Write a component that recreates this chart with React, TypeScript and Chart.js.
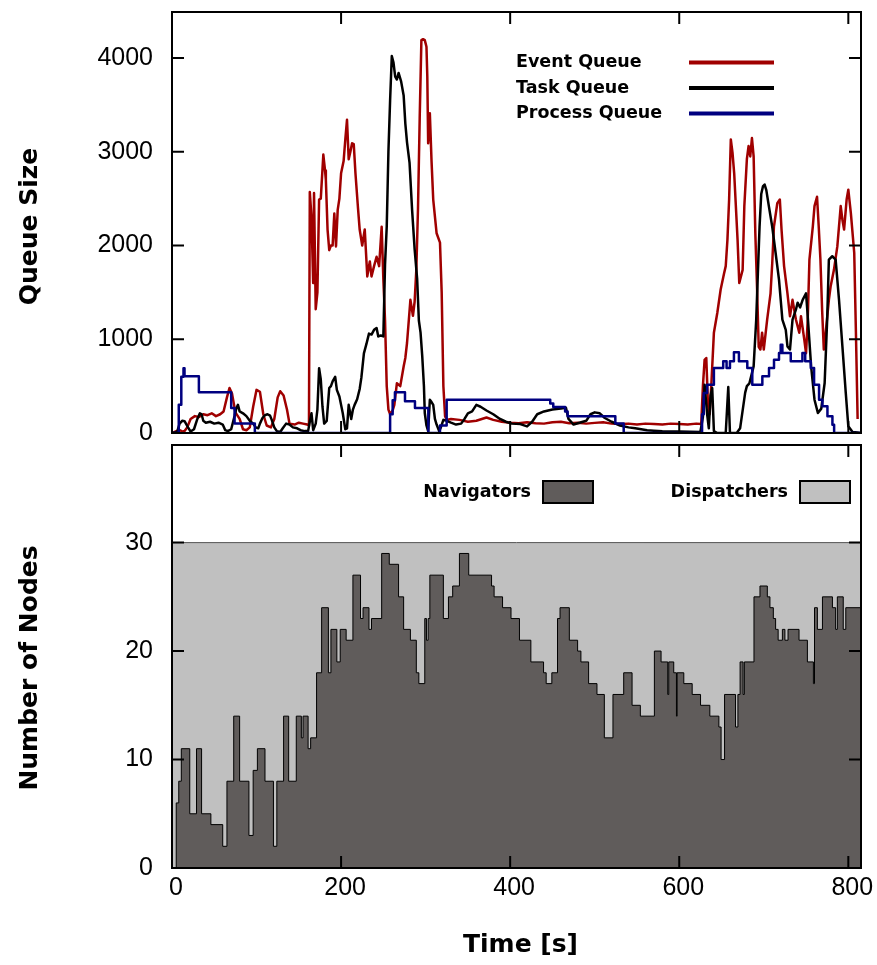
import { useEffect, useRef } from "react";
import { Chart, registerables } from "chart.js";

Chart.register(...registerables);

// ---- axes ----
const T_MAX = 815;
const TIME_TICKS = [0, 200, 400, 600, 800];
const QUEUE_MAX = 4490;
const QUEUE_TICKS = [0, 1000, 2000, 3000, 4000];
const NODE_MAX = 39;
const NODE_TICKS = [0, 10, 20, 30];

// ---- queue sizes over time: [time (s), size] ----
const EVENT_QUEUE: [number, number][] = [
  [0, 0], [5, 20], [9, 30], [14, 10], [18, 60], [22, 150], [27, 180], [32, 170], [37, 200], [42, 190],
  [47, 210], [52, 180], [57, 200], [61, 230], [65, 380], [68, 480], [71, 420], [75, 220], [80, 150], [84, 40],
  [88, 30], [92, 60], [96, 280], [100, 460], [104, 440], [108, 200], [112, 80], [117, 60], [121, 150], [125, 380],
  [128, 445], [132, 400], [136, 250], [139, 100], [145, 90], [150, 110], [155, 100], [160, 90], [162, 80],
  [163, 2570], [165, 2300], [167, 1600], [168, 2560], [170, 1320], [172, 1500], [174, 2490], [176, 2500], [179, 2970],
  [181, 2800], [182, 2700], [184, 2170], [186, 1950], [188, 2000], [190, 2000], [192, 2340], [194, 1990], [196, 2380],
  [198, 2500], [200, 2770], [203, 2900], [205, 3130], [207, 3340], [209, 2920], [211, 3000], [213, 3090], [215, 3080],
  [217, 2770], [220, 2400], [222, 2170], [225, 2000], [228, 2170], [231, 1670], [234, 1830], [236, 1670], [239, 1780],
  [242, 1880], [245, 1780], [248, 2200], [250, 1640], [252, 1200], [254, 500], [256, 250], [258, 200], [261, 240],
  [263, 300], [266, 530], [270, 500], [274, 710], [276, 800], [278, 960], [282, 1420], [285, 1250], [287, 1400],
  [289, 1740], [291, 2400], [293, 3360], [295, 4190], [297, 4200], [299, 4190], [301, 4120], [302, 3800], [303, 3090],
  [305, 3410], [307, 2900], [309, 2490], [313, 2130], [317, 2030], [319, 1500], [321, 500], [323, 180], [325, 140],
  [330, 150], [340, 140], [350, 120], [360, 130], [372, 165], [380, 140], [390, 120], [400, 110], [410, 105],
  [420, 115], [430, 105], [440, 100], [450, 115], [460, 120], [470, 105], [480, 110], [490, 100], [500, 108],
  [510, 115], [520, 100], [530, 95], [540, 100], [550, 90], [560, 100], [570, 95], [580, 90], [590, 100], [600, 95],
  [610, 90], [620, 100], [626, 95],
  [628, 500], [630, 780], [632, 800], [634, 300], [636, 200], [638, 520], [641, 1070], [645, 1280], [649, 1530],
  [653, 1700], [655, 1780], [657, 2060], [659, 2490], [661, 3130], [663, 2990], [665, 2770], [669, 2060], [671, 1600],
  [675, 1740], [677, 2420], [680, 2920], [682, 3060], [684, 2950], [686, 3145], [688, 2950], [690, 2130], [692, 1560],
  [694, 920], [696, 890], [698, 1070], [700, 890], [704, 1210], [708, 1490], [710, 1810], [712, 2200], [716, 2450],
  [719, 2490], [721, 2170], [724, 1780], [728, 1490], [731, 1245], [734, 1420], [738, 1210], [742, 1070], [744, 1245],
  [748, 990], [750, 850], [752, 1210], [754, 1850], [758, 2200], [760, 2420], [763, 2520], [765, 2200], [767, 1850],
  [769, 1315], [771, 890], [774, 1140], [777, 1420], [779, 1560], [783, 1740], [787, 1990], [791, 2420], [793, 2275],
  [795, 2170], [798, 2490], [800, 2595], [803, 2345], [807, 1920], [809, 1070], [811, 150],
];

const TASK_QUEUE: [number, number][] = [
  [0, 0], [6, 10], [9, 100], [12, 130], [15, 125], [19, 60], [22, 15], [26, 40], [30, 150], [33, 210], [35, 200],
  [37, 130], [40, 110], [45, 120], [50, 100], [55, 110], [60, 90], [63, 30], [66, 20], [70, 40], [74, 180], [76, 260],
  [78, 300], [80, 230], [84, 210], [88, 180], [92, 130], [96, 100], [99, 60], [102, 50], [104, 100], [107, 160],
  [110, 190], [113, 200], [116, 185], [118, 140], [121, 60], [124, 20], [128, 10], [131, 50], [135, 100], [139, 90],
  [143, 60], [148, 50], [152, 30], [157, 20], [161, 20], [163, 120], [165, 210], [167, 30], [170, 100], [172, 250],
  [174, 690], [176, 570], [178, 280], [180, 100], [183, 130], [186, 480], [188, 500], [190, 550], [193, 600],
  [195, 460], [198, 390], [200, 300], [202, 210], [205, 40], [207, 50], [209, 300], [212, 150], [214, 250], [216, 300],
  [219, 360], [222, 470], [224, 590], [227, 850], [230, 950], [233, 1060], [236, 1050], [239, 1100], [242, 1120],
  [244, 1030], [247, 1040], [250, 1030], [252, 1800], [254, 2200], [256, 3000], [258, 3550], [260, 4020], [262, 3950],
  [264, 3800], [266, 3770], [268, 3840], [271, 3750], [274, 3600], [276, 3300], [278, 3100], [281, 2880], [284, 2380],
  [287, 1960], [290, 1640], [292, 1200], [294, 1070], [296, 820], [298, 500], [299, 213], [301, 80], [303, 20],
  [305, 355], [307, 330], [309, 300], [311, 150], [313, 90], [316, 20], [318, 60], [321, 140], [325, 130], [330, 110],
  [336, 90], [342, 100], [346, 150], [350, 210], [355, 230], [360, 300], [365, 280], [372, 240], [380, 200],
  [388, 150], [395, 120], [402, 100], [412, 95], [420, 70], [426, 120], [432, 200], [440, 230], [450, 250],
  [460, 260], [466, 270], [469, 150], [475, 90], [482, 110], [490, 130], [495, 200], [500, 220], [506, 210],
  [512, 160], [520, 120], [530, 80], [540, 60], [548, 50], [555, 40], [562, 30], [570, 25], [580, 20], [600, 15],
  [625, 10], [628, 170], [630, 515], [633, 200], [635, 50], [637, 400], [639, 480], [641, 20], [645, 0], [655, 0],
  [658, 490], [660, 0], [668, 0], [672, 50], [678, 430], [680, 500], [683, 530], [688, 710], [691, 1200], [693, 1700],
  [695, 2200], [697, 2550], [699, 2630], [701, 2650], [703, 2590], [706, 2420], [710, 2200], [714, 1920], [718, 1635],
  [722, 1210], [726, 1100], [728, 924], [731, 890], [734, 1210], [738, 1315], [740, 1390], [743, 1340], [746, 1420],
  [750, 1490], [752, 1245], [756, 710], [760, 355], [764, 213], [768, 260], [772, 533], [775, 1210], [777, 1850],
  [781, 1885], [785, 1850], [789, 1420], [793, 924], [797, 426], [800, 71], [805, 10], [811, 5], [815, 0],
];

// step series: each value holds from its time until the next entry
const PROCESS_QUEUE: [number, number][] = [
  [0, 0], [8, 300], [11, 600], [13.6, 690], [14.8, 604], [31.8, 434], [70, 267], [74, 100], [98, 0], [258, 200],
  [261, 350], [263.7, 434], [275.6, 338], [287.4, 267], [303.2, 0], [317, 80], [324.9, 355], [447.4, 315], [451, 277],
  [465, 230], [468, 178], [524.4, 100], [534.3, 0], [627, 200], [629, 427], [633, 515], [641, 693], [652, 764],
  [656, 693], [660, 764], [664.7, 860], [670.6, 764], [680.5, 693], [686.4, 515], [698.3, 604], [706.2, 693],
  [712.1, 782], [718, 853], [720, 942], [722, 853], [731.9, 764], [745.7, 853], [749, 764], [755.6, 693],
  [759.5, 515], [765.4, 355], [769.4, 285], [775.3, 178], [781.2, 89], [783.2, 0], [815, 0],
];

// ---- node counts over time: [time (s), nodes] ----
const NAVIGATORS: [number, number][] = [
  [0, 0], [5, 6], [8, 8], [11, 11], [21, 5], [29, 11], [35, 5], [46, 4], [60, 2], [65, 8], [73, 14], [80, 8],
  [91, 3], [96, 9], [101, 11], [110, 8], [120, 2], [124, 8], [132, 14], [138, 8], [147, 14], [153, 12], [155, 14],
  [161, 11], [164, 12], [171, 18], [177, 24], [185, 18], [188, 22], [195, 19], [199, 22], [206, 21], [214, 27],
  [223, 23], [226, 24], [233, 22], [236, 23], [248, 29], [257, 28], [268, 25], [274, 22], [282, 21], [289, 18],
  [292, 17], [299, 23], [301, 21], [303, 23], [305, 27], [321, 23], [327, 25], [332, 26], [340, 29], [351, 27],
  [378, 26], [381, 25], [391, 24], [401, 23], [411, 21], [424.5, 19], [439.5, 18], [442.6, 17], [449.3, 18],
  [456, 23], [459, 24], [470, 21], [479.8, 20], [483.7, 19], [492.8, 17], [502.7, 16], [511.4, 12], [521.6, 16],
  [534.3, 18], [544.2, 15], [554, 14], [570.6, 20], [578.5, 19], [586.4, 16], [587.6, 19], [593.5, 18], [596.7, 14],
  [597.5, 18], [605.4, 17], [615.3, 16], [625.2, 15], [636.2, 14], [646.9, 13], [649.5, 10], [653.6, 16],
  [666.6, 13], [669.4, 16], [672, 19], [675.5, 16], [677, 19], [688.4, 25], [695.5, 26], [704.2, 25], [707.3, 24],
  [711.3, 23], [714, 22], [717, 21], [722, 22], [725, 21], [728.7, 22], [741.7, 21], [751.6, 19], [758.7, 17],
  [760, 24], [763.4, 22], [769.4, 25], [781.2, 24], [785, 22], [787, 25], [794, 22], [797, 24], [815, 24],
];
const DISPATCHERS: [number, number][] = [[0, 30], [815, 30]];

// ---- styling ----
const TICK_LEN = 12;
const TICK_FONT = '25px "Liberation Sans", Arial, sans-serif';
const TITLE_FONT = 'bold 25px "DejaVu Sans", sans-serif';
const KEY_FONT = 'bold 17.5px "DejaVu Sans", sans-serif';

const toPoints = (rows: [number, number][]) => rows.map(([x, y]) => ({ x, y }));

type FrameOpts = {
  xTicks: number[];
  yTicks: number[];
  xLabels: boolean;
  yTitle: string;
  yTitleCenter: number;
  xTitle?: string;
  xTitleBaseline?: number;
  key: (chart: any, ctx: CanvasRenderingContext2D) => void;
};

function framePlugin(o: FrameOpts) {
  return {
    id: "frame",
    afterDraw(chart: any) {
      const { ctx, chartArea: a, scales } = chart;
      const xs = scales.x;
      const ys = scales.y;
      ctx.save();
      ctx.strokeStyle = "#000";
      ctx.lineWidth = 2;
      ctx.beginPath();
      for (const v of o.xTicks) {
        const px = xs.getPixelForValue(v);
        ctx.moveTo(px, a.top);
        ctx.lineTo(px, a.top + TICK_LEN);
        ctx.moveTo(px, a.bottom);
        ctx.lineTo(px, a.bottom - TICK_LEN);
      }
      for (const v of o.yTicks) {
        const py = ys.getPixelForValue(v);
        ctx.moveTo(a.left, py);
        ctx.lineTo(a.left + TICK_LEN, py);
        ctx.moveTo(a.right, py);
        ctx.lineTo(a.right - TICK_LEN, py);
      }
      ctx.stroke();
      ctx.strokeRect(a.left, a.top, a.right - a.left, a.bottom - a.top);

      ctx.fillStyle = "#000";
      ctx.font = TICK_FONT;
      ctx.textAlign = "right";
      ctx.textBaseline = "middle";
      for (const v of o.yTicks) ctx.fillText(String(v), a.left - 19, ys.getPixelForValue(v));
      if (o.xLabels) {
        ctx.textAlign = "center";
        for (const v of o.xTicks) ctx.fillText(String(v), xs.getPixelForValue(v) + 4, a.bottom + 20);
      }

      ctx.font = TITLE_FONT;
      ctx.textAlign = "center";
      ctx.textBaseline = "alphabetic";
      ctx.save();
      ctx.translate(36.5, o.yTitleCenter);
      ctx.rotate(-Math.PI / 2);
      ctx.fillText(o.yTitle, 0, 0);
      ctx.restore();
      if (o.xTitle) ctx.fillText(o.xTitle, (a.left + a.right) / 2 + 4, o.xTitleBaseline as number);

      o.key(chart, ctx);
      ctx.restore();
    },
  };
}

// line-sample key: label on the left, sample on the right
function queueKey(chart: any, ctx: CanvasRenderingContext2D) {
  ctx.font = KEY_FONT;
  ctx.textAlign = "left";
  ctx.textBaseline = "middle";
  chart.data.datasets.forEach((ds: any, i: number) => {
    const y = 62.5 + i * 25.5;
    ctx.fillStyle = "#000";
    ctx.fillText(ds.label, 516, y);
    ctx.strokeStyle = ds.borderColor;
    ctx.lineWidth = 4;
    ctx.beginPath();
    ctx.moveTo(689, y);
    ctx.lineTo(774, y);
    ctx.stroke();
  });
}

// filled-box key: label right-aligned before its box
function nodeKey(chart: any, ctx: CanvasRenderingContext2D) {
  ctx.font = KEY_FONT;
  ctx.textAlign = "right";
  ctx.textBaseline = "middle";
  const slots = [543, 800];
  chart.data.datasets.forEach((ds: any, i: number) => {
    const bx = slots[i];
    const y = 52;
    ctx.fillStyle = "#000";
    ctx.fillText(ds.label, bx - 12, y);
    ctx.fillStyle = ds.backgroundColor;
    ctx.fillRect(bx, y - 11, 50, 22);
    ctx.strokeStyle = "#000";
    ctx.lineWidth = 2;
    ctx.strokeRect(bx, y - 11, 50, 22);
  });
}

function lineSet(label: string, rows: [number, number][], color: string, order: number, stepped = false) {
  return {
    label,
    data: toPoints(rows),
    borderColor: color,
    backgroundColor: color,
    borderWidth: 2.5,
    borderJoinStyle: "round" as const,
    pointRadius: 0,
    tension: 0,
    stepped: stepped ? ("before" as const) : false,
    fill: false,
    order,
  };
}

function queueConfig(): any {
  return {
    type: "line",
    data: {
      datasets: [
        lineSet("Event Queue", EVENT_QUEUE, "#a00000", 3),
        lineSet("Task Queue", TASK_QUEUE, "#000000", 2),
        lineSet("Process Queue", PROCESS_QUEUE, "#000080", 1, true),
      ],
    },
    options: {
      animation: false,
      responsive: false,
      events: [],
      layout: { padding: { left: 172, right: 16, top: 12, bottom: 7 } },
      scales: {
        x: { type: "linear", min: 0, max: T_MAX, display: false },
        y: { type: "linear", min: 0, max: QUEUE_MAX, display: false },
      },
      plugins: { legend: { display: false }, tooltip: { enabled: false } },
    },
    plugins: [
      framePlugin({
        xTicks: TIME_TICKS,
        yTicks: QUEUE_TICKS,
        xLabels: false,
        yTitle: "Queue Size",
        yTitleCenter: 226.5,
        key: queueKey,
      }),
    ],
  };
}

function nodeConfig(): any {
  return {
    type: "line",
    data: {
      datasets: [
        {
          label: "Navigators",
          data: toPoints(NAVIGATORS),
          stepped: "before",
          fill: "origin",
          backgroundColor: "#605c5b",
          borderColor: "#000000",
          borderWidth: 1,
          pointRadius: 0,
          order: 1,
        },
        {
          label: "Dispatchers",
          data: toPoints(DISPATCHERS),
          fill: "origin",
          backgroundColor: "#c0c0c0",
          borderColor: "#555555",
          borderWidth: 1,
          pointRadius: 0,
          order: 2,
        },
      ],
    },
    options: {
      animation: false,
      responsive: false,
      events: [],
      layout: { padding: { left: 172, right: 16, top: 5, bottom: 97 } },
      scales: {
        x: { type: "linear", min: 0, max: T_MAX, display: false },
        y: { type: "linear", min: 0, max: NODE_MAX, display: false },
      },
      plugins: { legend: { display: false }, tooltip: { enabled: false } },
    },
    plugins: [
      framePlugin({
        xTicks: TIME_TICKS,
        yTicks: NODE_TICKS,
        xLabels: true,
        yTitle: "Number of Nodes",
        yTitleCenter: 228,
        xTitle: "Time [s]",
        xTitleBaseline: 512,
        key: nodeKey,
      }),
    ],
  };
}

export default function App() {
  const topRef = useRef<HTMLCanvasElement>(null);
  const bottomRef = useRef<HTMLCanvasElement>(null);

  useEffect(() => {
    const top = new Chart(topRef.current as HTMLCanvasElement, queueConfig());
    const bottom = new Chart(bottomRef.current as HTMLCanvasElement, nodeConfig());
    return () => {
      top.destroy();
      bottom.destroy();
    };
  }, []);

  return (
    <div style={{ position: "absolute", left: 0, top: 0, width: 877, height: 965, background: "#fff" }}>
      <canvas ref={topRef} width={877} height={440} style={{ position: "absolute", left: 0, top: 0 }} />
      <canvas ref={bottomRef} width={877} height={525} style={{ position: "absolute", left: 0, top: 440 }} />
    </div>
  );
}
